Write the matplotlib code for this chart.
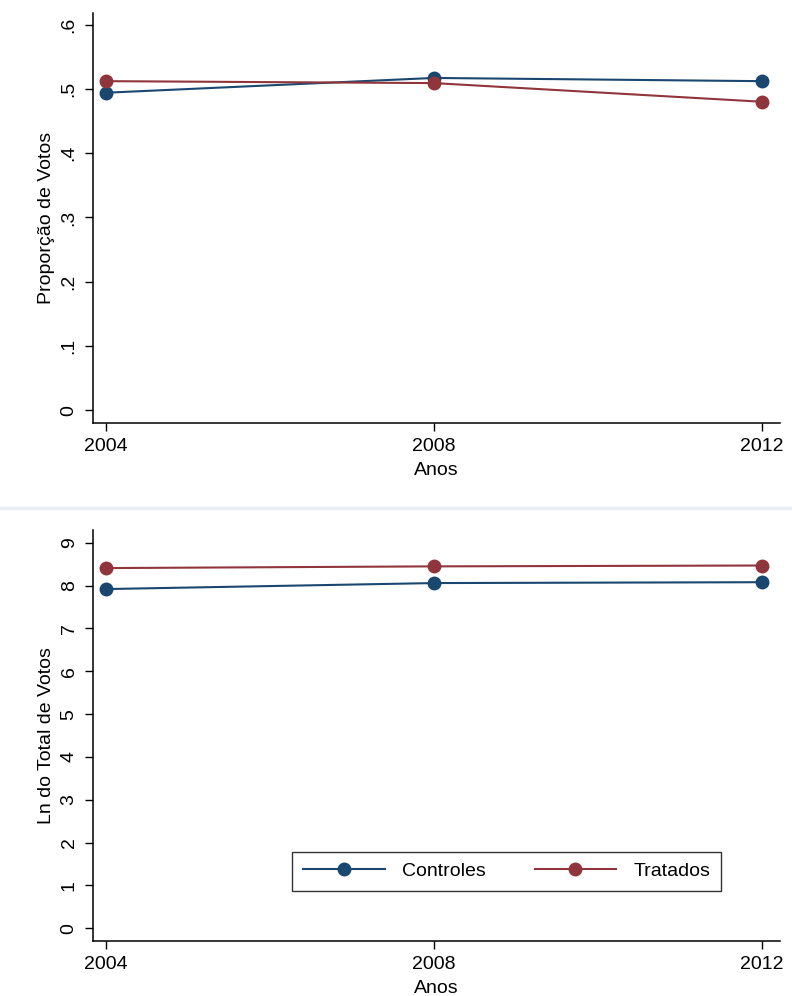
import matplotlib.pyplot as plt
from matplotlib.lines import Line2D

plt.rcParams['font.family'] = ['Liberation Sans', 'DejaVu Sans']

years = [2004, 2008, 2012]

# top panel: vote share
prop_controles = [0.494, 0.517, 0.512]
prop_tratados = [0.512, 0.509, 0.480]

# bottom panel: ln of total votes
ln_controles = [7.92, 8.06, 8.08]
ln_tratados = [8.41, 8.45, 8.47]

prop_ticks = [0, 0.1, 0.2, 0.3, 0.4, 0.5, 0.6]
prop_ticklabels = ["0", ".1", ".2", ".3", ".4", ".5", ".6"]
ln_ticks = list(range(0, 10))

blue = "#1a476f"
red = "#90353b"
fs = 14

fig = plt.figure(figsize=(7.92, 9.96), dpi=100)
ax1 = fig.add_axes([0.1174, 0.5753, 0.867, 0.4116])
ax2 = fig.add_axes([0.1174, 0.0552, 0.867, 0.4127])


def style(ax):
    for s in ["top", "right"]:
        ax.spines[s].set_visible(False)
    for s in ["left", "bottom"]:
        ax.spines[s].set_linewidth(1.1)
    ax.tick_params(length=6, width=1.0, labelsize=fs, pad=5)
    ax.set_xticks(years)
    ax.set_xticklabels([str(y) for y in years])
    ax.set_xlim(2003.84, 2012.22)
    ax.set_xlabel("Anos", fontsize=fs, labelpad=5)
    for lab in ax.get_yticklabels():
        lab.set_rotation(90)
        lab.set_va("center")


ax1.plot(years, prop_controles, color=blue, lw=1.5, marker="o", ms=9, label="Controles")
ax1.plot(years, prop_tratados, color=red, lw=1.5, marker="o", ms=9, label="Tratados")
ax1.set_ylim(-0.020, 0.618)
ax1.set_yticks(prop_ticks)
ax1.set_yticklabels(prop_ticklabels)
ax1.set_ylabel("Proporção de Votos", fontsize=fs, labelpad=4)
style(ax1)

ax2.plot(years, ln_controles, color=blue, lw=1.5, marker="o", ms=9, label="Controles")
ax2.plot(years, ln_tratados, color=red, lw=1.5, marker="o", ms=9, label="Tratados")
ax2.set_ylim(-0.30, 9.30)
ax2.set_yticks(ln_ticks)
ax2.set_ylabel("Ln do Total de Votos", fontsize=fs, labelpad=4)
style(ax2)

leg = ax2.legend(loc="center", bbox_to_anchor=(0.640, 0.1255), bbox_transform=fig.transFigure,
                 ncol=2, fontsize=fs, frameon=True, fancybox=False, handlelength=4.2,
                 columnspacing=2.5, handletextpad=0.9, borderpad=0.55)
leg.get_frame().set_edgecolor("black")
leg.get_frame().set_linewidth(1.0)

# light separator between the two graphs
fig.add_artist(Line2D([0, 1], [0.490, 0.490], transform=fig.transFigure, color="#e9eff2", lw=2.5))

fig.savefig("out.png", dpi=100)
